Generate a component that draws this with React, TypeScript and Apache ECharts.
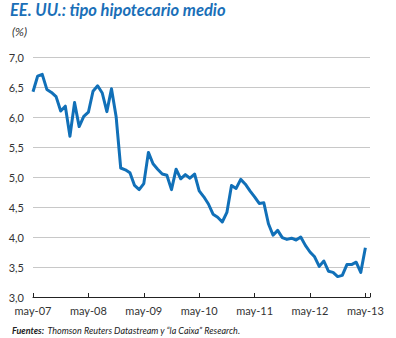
import React, { useEffect, useRef } from "react";
import * as echarts from "echarts";

const yearLabels = ["may-07", "may-08", "may-09", "may-10", "may-11", "may-12", "may-13"];

// Monthly average mortgage rate (%), from May 2007 (index 0) to May 2013 (index 72)
const rates = [
  6.42, 6.68, 6.71, 6.46, 6.41, 6.34, 6.10, 6.18, 5.68, 6.24,
  5.84, 6.01, 6.08, 6.43, 6.52, 6.40, 6.09, 6.47, 6.01, 5.15,
  5.12, 5.07, 4.86, 4.79, 4.89, 5.41, 5.22, 5.13, 5.05, 5.03,
  4.79, 5.13, 4.97, 5.04, 4.98, 5.05, 4.77, 4.67, 4.55, 4.38,
  4.33, 4.25, 4.41, 4.86, 4.81, 4.96, 4.88, 4.77, 4.67, 4.56,
  4.57, 4.22, 4.03, 4.11, 3.99, 3.96, 3.98, 3.95, 4.00, 3.86,
  3.75, 3.67, 3.51, 3.60, 3.43, 3.41, 3.34, 3.36, 3.54, 3.54,
  3.58, 3.41, 3.82,
];

const titleText = "EE. UU.: tipo hipotecario medio";
const unitText = "(%)";

export default function App() {
  const ref = useRef<HTMLDivElement>(null);
  useEffect(() => {
    if (!ref.current) return;
    const chart = echarts.init(ref.current, null, { renderer: "svg" });
    const font = "Lato, 'Open Sans', sans-serif";
    chart.setOption({
      animation: false,
      grid: { left: 33, right: 26, top: 57, bottom: 41, containLabel: false },
      xAxis: {
        type: "value",
        min: 0,
        max: 73,
        interval: 12,
        axisLine: { show: true, lineStyle: { color: "#222", width: 1 } },
        axisTick: { show: true, inside: true, length: 4, lineStyle: { color: "#222" } },
        splitLine: { show: false },
        axisLabel: {
          margin: 8,
          color: "#333",
          fontFamily: font,
          fontSize: 11,
          formatter: (v: number) => {
            const k = Math.round(v / 12);
            return v % 12 === 0 && yearLabels[k] ? yearLabels[k] : "";
          },
        },
      },
      yAxis: {
        type: "value",
        min: 3,
        max: 7,
        interval: 0.5,
        axisLine: { show: false },
        axisTick: { show: false },
        splitLine: { show: true, lineStyle: { color: "#c8c8c8", width: 1 } },
        axisLabel: {
          margin: 9,
          color: "#333",
          fontFamily: font,
          fontSize: 11,
          formatter: (v: number) => v.toFixed(1).replace(".", ","),
        },
      },
      series: [
        {
          type: "line",
          data: rates.map((v, i) => [i, v]),
          showSymbol: false,
          symbol: "none",
          lineStyle: { color: "#1170b8", width: 3, join: "round" },
          z: 5,
        },
      ],
      graphic: [
        {
          type: "text",
          left: 10,
          top: 1,
          style: {
            text: titleText,
            fill: "#1a6fb8",
            font: "italic bold 16.5px " + font,
          },
        },
        {
          type: "text",
          left: 12,
          top: 25,
          style: {
            text: unitText,
            fill: "#333",
            font: "italic 12px " + font,
          },
        },
        {
          type: "text",
          left: 12,
          top: 324,
          style: {
            text: "{b|Fuentes:} {n|Thomson Reuters Datastream y “la Caixa” Research.}",
            rich: {
              b: { fontFamily: font, fontSize: 9, fontStyle: "italic", fontWeight: "bold", fill: "#222" },
              n: { fontFamily: font, fontSize: 9, fontStyle: "italic", fill: "#222" },
            },
          },
        },
      ],
    });
    return () => chart.dispose();
  }, []);
  return (
    <div
      ref={ref}
      style={{ position: "fixed", left: 0, top: 0, width: 396, height: 338, background: "#fff" }}
    />
  );
}
